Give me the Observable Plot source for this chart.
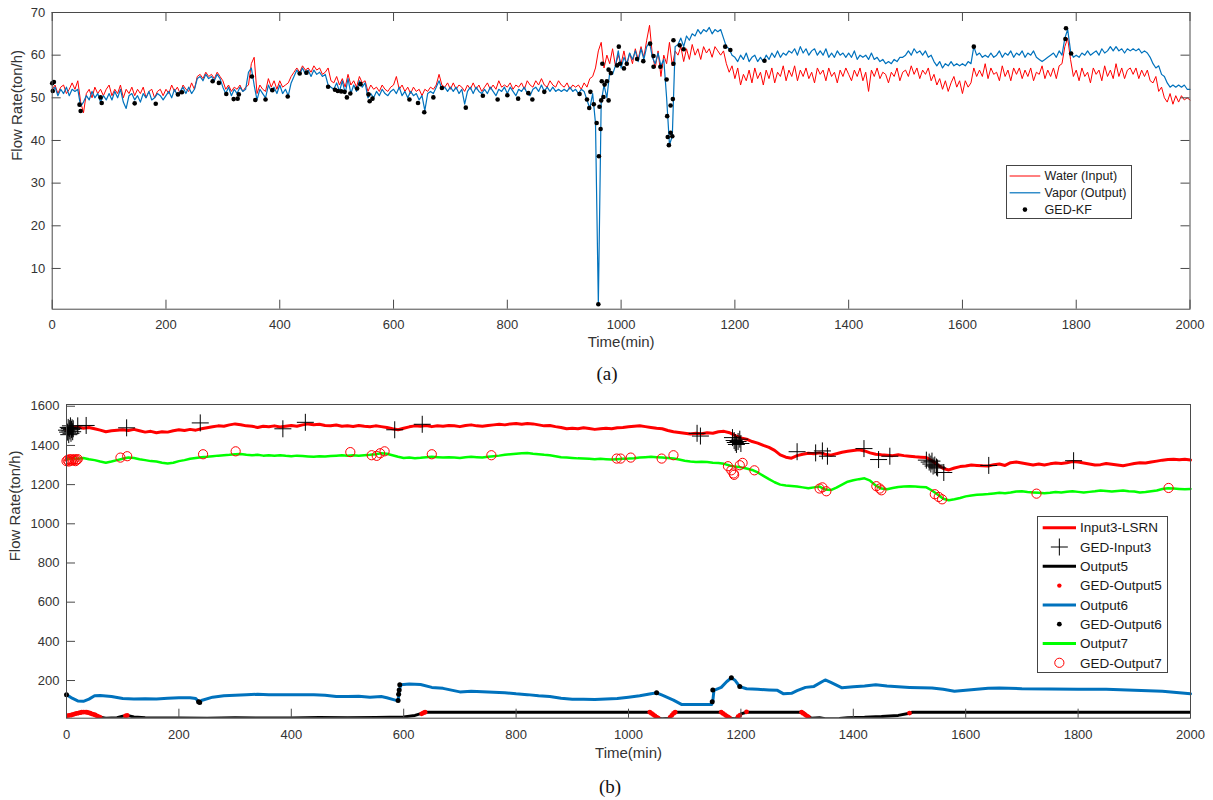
<!DOCTYPE html>
<html><head><meta charset="utf-8">
<script src="https://cdn.jsdelivr.net/npm/d3@7"></script>
<script src="https://cdn.jsdelivr.net/npm/@observablehq/plot@0.6"></script>
<style>
body{margin:0;background:#fff;}
#root{position:relative;width:1213px;height:800px;overflow:hidden;font-family:"Liberation Sans",Arial,sans-serif;}
.panel{position:absolute;left:0;}
.cap{position:absolute;font-family:"Liberation Serif","Times New Roman",serif;font-size:19px;color:#111;transform:translate(-50%,-50%);white-space:nowrap;}
.legend{position:absolute;}
</style>
</head><body><div id="root"></div>
<script>
// ---------- Panel (a) data ----------
const aXTicks = [0,200,400,600,800,1000,1200,1400,1600,1800,2000];
const aYTicks = [10,20,30,40,50,60,70];
const aStep = 5; // minutes between samples
const waterValues = [
52,53,51,52.5,53,51,52,53.5,52,54,49,46.5,51,52,50,52.5,51,52,50.5,52,
53,50.5,52,51,53,50,52,51,52.5,50.5,52,51,52.5,50,51.5,52,50,51.5,52,50.5,
52,51,53,51.5,52.5,51,53,52,51.5,53.5,52,55,55.5,54.5,56,55,55.5,54.5,56,55,
54,52,53,51.5,52.5,52,53,51.5,52.5,53,58,59.5,51,53,52,51.5,54.5,52.5,54,52,
54,52.5,53,53.5,55,56,57,56,57.5,56.5,57,56,57.5,56.5,57,55.5,56,57,54,53.5,
55,53,54.5,52.5,55.5,53,54,52.5,55,53.5,54,51.5,53,52,52.5,51.5,53,52,51.5,52.5,
53,55,52,53,51.5,52.5,51,52.5,51.5,52,50.5,52,51.5,52.5,52,53,55.5,53,52.5,53.5,
52,53.5,52,53,52.5,51.5,53,52,53.5,52,53,51.5,52.5,53.5,52,53,52,54,52.5,53,
52.5,53.5,52,53,52.5,53.5,52,54,53,52.5,54,53,54.5,53,52.5,54,53,52.5,54,53,
52.5,53.5,52,53,52.5,53,52,53.5,52.5,54.5,55,57,61,63,57,60,58,61.5,57.5,60,
58,61,57.5,60.5,58,61.5,59,62,59.5,63.5,67,60,57,61,55,60,58,63,57.5,61,
60,62,58.5,61.5,59,62.5,60,61.5,59,62,60.5,61.5,59.5,62,61,60,61,58,56,57.5,
54.5,57,53,55.5,54,56.5,53.5,57,54.5,56,53,56.5,54.5,57,53.5,56,55,57.5,54,56.5,
55,57.5,54,56.5,55,57,54.5,56,53.5,57,55.5,56.5,54,57,55,56,53.5,56.5,55,57,
55.5,54,56.5,55,57,54,56,51.5,56.5,55,57,54.5,56,55.5,53.5,56,55,57,54,56,
56.5,55,57.5,55.5,57,54.5,56.5,55.5,57,54,55.5,53,54.5,52,54,51.5,53.5,55,52.5,54,
51,54,52.5,53.5,57,55,56.5,55,58,54.5,57,55.5,56,54,57.5,55,56.5,54,57,55.5,
57,54.5,56.5,55,57,54,56,55.5,57.5,54.5,56.5,55,57,54.5,57.5,58,62,64,59,55,
56.5,54,57,55,56,53.5,57,55.5,56.5,54,57.5,55,56.5,54.5,58,55,57,54.5,56.5,57,
55.5,57,54.5,56.5,55,56.5,54,53.5,55,51.5,52.5,50,49,51,48.5,50.5,49,50.5,49.5,50,49.5
];
const vaporValues = [
51.5,52.5,50.5,52,51,52.5,50.5,52,51.5,52,48,49,50.5,49.5,51.5,50,51,49,50.5,49.5,
51,49.5,51.5,50,52,49,47.5,50.5,51,49.5,50.5,49,51,50,51.5,49.5,50,51,50.5,49.5,
50.5,51.5,50,52,50.5,51.5,52.5,51,52.5,51,52,54.5,55,54,55.5,54.5,55,54,55.5,54.5,
52.5,51,52.5,50.5,52,51,52.5,51.5,52,56,57,53,49.5,52,51,50,53,51.5,52.5,51,
53,51,52,50.5,53.5,55,56.5,55.5,57,55.5,56.5,55,56.5,55.5,56,55,55.5,53,52.5,52,
53.5,51.5,54,51,54.5,51,53,51.5,54,52.5,53.5,50,51,50,51.5,50.5,52,51,50.5,51.5,
52,51,52.5,50.5,51.5,50,51.5,50.5,51,49.5,50.5,47,51,51.5,51,52.5,54,52,52.5,51.5,
52.5,51.5,52.5,51,52,48.5,51.5,52.5,51,52.5,51.5,51,52,51,52.5,51.5,50.5,52,51.5,52.5,
51,52.5,51.5,50.5,52,51.5,52.5,51,50.5,52,52.5,51.5,53,51.5,52.5,51.5,52.5,51.5,52,51.5,
52,51.5,52.5,51.5,52,51,52,51.5,49.5,47.5,51,44,1.6,49,53,50,56,55.5,57.5,61,
57,59.5,58,60.5,59,61,58.5,61.5,59,62,63,59.5,58,60.5,57.5,59,50,39,41,62,
62.5,64,62,64.5,63.5,65,64.5,66,65,66,65.5,66.5,65,66,65.5,66,64,62,61.5,60,
59.5,58.5,60,59,60.5,58.5,59.5,60,58.5,59.5,58.5,60,59,60.5,59.5,61,59.5,60.5,60,61,
60.5,61.5,60,62,60.5,61.5,60,61,61.5,60,61,60,61.5,59.5,60.5,59.5,61,60,60.5,59.5,
60.5,59.5,61,59,60,59.5,60,59,60.5,59,59.5,58.5,59,58,58.5,58,59,58.5,59.5,59.5,
60,61,60,61.5,60.5,61,60,61,59.5,60,58.5,57.5,58.5,57,58,57.5,58.5,57.5,58,57.5,
58,57.5,58.5,58,62,60,60.5,59.5,60,59.5,60.5,59.5,60,61,59.5,60.5,60,61,59.5,60.5,
60,61,59.5,60.5,60,61,59.5,59,58.5,59,59.5,60,60.5,59.5,61,60,64,66,61,59.5,
60,59.5,60.5,60,61,60,60.5,61,60,61.5,60.5,61,62,61,62,61,61.5,60.5,61.5,61,
61.5,61,61.5,60.5,61,60.5,59.5,58,57,57.5,55.5,55,53.5,52.5,53,52.5,53,52.5,53,52,52
];
const gedKfTime = [0,1,3,48,50,85,87,145,182,221,228,282,293,306,319,326,328,351,357,375,387,414,435,447,485,497,502,508,514,518,524,536,542,556,558,563,628,643,654,670,685,727,757,783,800,819,837,844,865,927,940,944,946,952,957,961,960,962,964,965,966,967,969,971,975,978,978,982,993,996,998,1005,1010,1028,1039,1051,1057,1057,1069,1080,1081,1082,1084,1087,1087,1090,1091,1092,1092,1103,1110,1183,1192,1252,1620,1781,1782,1791];
const gedKfValue = [53.4,51.6,53.7,48.4,46.9,50.1,48.8,48.7,48.6,50.8,51.3,53.9,53.5,50.9,49.7,49.8,50.8,55,49.5,49.6,51.8,50.3,55.7,55.9,52.6,51.9,51.6,51.5,51.4,50.1,51,52.2,53.2,50.8,49.2,49.8,49.6,48.8,46.6,50.1,52.3,47.7,50.5,49.6,50.6,49.8,51.1,49.6,51.4,50.9,49.6,47.6,51.4,48.5,44.1,36.3,1.6,47.9,42.7,49.4,53.9,58,50.2,53.1,53.9,49.4,56.6,55.8,57.6,62,58,56.9,58,59.1,58.6,62.7,59.8,57.3,57.3,54.3,45.7,40.8,38.9,48.2,41.8,41,49.7,58,63.5,62.3,61.4,62,61.2,58.7,62,63.8,66.3,60.4];

// ---------- Panel (b) data ----------
const bXTicks = [0,200,400,600,800,1000,1200,1400,1600,1800,2000];
const bYTicks = [200,400,600,800,1000,1200,1400,1600];
const bStep = 10;
const input3Values = [
1480,1490,1495,1488,1492,1485,1478,1470,1475,1478,
1480,1476,1482,1475,1468,1472,1465,1470,1468,1475,
1480,1476,1482,1478,1485,1490,1495,1500,1498,1505,
1510,1506,1500,1498,1492,1498,1495,1500,1494,1498,
1502,1498,1505,1510,1506,1508,1502,1500,1504,1498,
1500,1497,1502,1498,1495,1500,1496,1492,1485,1480,
1488,1495,1500,1498,1502,1496,1500,1498,1502,1500,
1496,1502,1505,1500,1498,1502,1505,1508,1505,1510,
1512,1508,1512,1510,1505,1500,1502,1496,1492,1485,
1488,1485,1490,1486,1482,1485,1488,1485,1490,1492,
1495,1498,1500,1496,1492,1488,1485,1476,1470,1466,
1462,1458,1462,1460,1465,1462,1470,1472,1465,1450,
1438,1432,1420,1412,1400,1390,1375,1352,1340,1335,
1348,1355,1360,1358,1362,1355,1350,1358,1365,1370,
1374,1378,1372,1362,1355,1352,1350,1348,1352,1348,
1345,1342,1340,1338,1322,1300,1282,1275,1285,1292,
1295,1300,1298,1296,1295,1302,1305,1298,1312,1315,
1310,1305,1300,1305,1300,1306,1310,1308,1312,1318,
1315,1310,1305,1300,1302,1308,1304,1300,1296,1302,
1308,1312,1310,1315,1320,1325,1328,1330,1327,1330,1326
];
const output7Values = [
1330,1335,1332,1336,1330,1325,1318,1312,1318,1325,
1332,1338,1336,1330,1325,1320,1318,1312,1308,1312,
1320,1325,1332,1336,1340,1342,1345,1348,1350,1352,
1355,1356,1352,1350,1352,1348,1350,1348,1350,1347,
1345,1348,1346,1344,1342,1345,1343,1346,1348,1350,
1348,1350,1348,1350,1352,1355,1360,1358,1350,1342,
1336,1338,1335,1337,1340,1342,1340,1338,1340,1338,
1336,1340,1342,1340,1338,1342,1345,1348,1352,1355,
1358,1360,1362,1358,1355,1352,1350,1345,1340,1338,
1336,1334,1333,1332,1330,1332,1330,1328,1330,1332,
1333,1335,1338,1340,1342,1340,1338,1336,1333,1328,
1322,1318,1316,1317,1315,1312,1310,1306,1298,1292,
1288,1282,1275,1262,1245,1228,1212,1200,1196,1193,
1190,1186,1182,1186,1190,1175,1172,1185,1200,1215,
1222,1228,1232,1220,1195,1180,1176,1183,1188,1190,
1192,1190,1188,1186,1170,1150,1128,1120,1125,1132,
1140,1145,1148,1150,1152,1155,1158,1156,1160,1165,
1166,1162,1160,1158,1156,1158,1162,1160,1164,1166,
1163,1160,1163,1166,1170,1168,1165,1168,1170,1166,
1165,1160,1162,1166,1170,1178,1182,1180,1178,1176,1178
];
const output6Time = [0,10,20,30,40,50,60,80,100,120,140,160,180,200,220,230,235,240,260,280,300,320,340,360,380,400,420,440,460,480,500,520,540,560,570,585,590,592,595,610,630,650,670,700,720,760,780,800,820,840,860,880,900,920,940,960,980,1000,1020,1040,1050,1060,1080,1095,1120,1148,1150,1152,1165,1175,1183,1190,1198,1210,1230,1250,1265,1276,1290,1300,1315,1330,1345,1350,1360,1380,1400,1420,1440,1460,1480,1500,1520,1540,1560,1580,1600,1620,1640,1660,1700,1750,1800,1850,1900,1950,1970,2000];
const output6Value = [128,110,96,94,105,122,123,118,108,106,107,106,110,112,112,108,92,98,115,122,125,127,130,128,128,128,127,127,125,118,118,120,115,118,112,100,96,150,178,182,180,165,160,142,145,140,138,132,128,122,118,110,104,104,103,106,108,115,122,132,137,125,100,77,77,77,95,150,165,195,214,200,169,158,155,152,150,132,135,148,165,170,195,203,190,163,168,172,178,172,168,165,163,162,155,145,150,155,160,162,158,157,155,155,150,145,140,132];
const output5Time = [0,10,20,30,40,50,60,70,90,100,110,120,140,200,250,300,350,400,450,500,550,600,620,635,640,700,800,900,1000,1038,1045,1052,1060,1072,1080,1085,1100,1165,1172,1180,1190,1195,1200,1210,1300,1310,1318,1325,1340,1350,1375,1390,1420,1450,1480,1500,1505,1600,1800,2000];
const output5Value = [20,25,33,38,36,25,12,8,10,18,20,14,10,9,8,10,9,9,11,10,11,14,22,35,38,38,38,38,38,38,25,8,5,8,32,38,38,38,25,8,5,15,30,38,38,38,20,8,10,5,6,10,12,16,22,33,38,38,38,38];
const gedInput3Time = [0,2,3,4,5,6,7,8,9,10,11,12,20,35,107,238,385,425,584,633,1122,1128,1185,1188,1190,1192,1195,1198,1200,1300,1333,1345,1354,1419,1445,1465,1530,1535,1538,1540,1542,1545,1548,1550,1561,1641,1792];
const gedInput3Value = [1478,1468,1492,1455,1486,1474,1500,1462,1482,1490,1470,1485,1500,1502,1490,1515,1485,1518,1480,1508,1462,1448,1440,1425,1415,1405,1420,1432,1410,1368,1362,1372,1345,1384,1328,1345,1325,1315,1305,1320,1295,1300,1290,1285,1262,1298,1322];
const gedOutput5Time = [0,3,6,9,12,15,18,21,24,27,30,33,36,39,42,45,48,51,54,57,60,105,108,632,635,638,1038,1041,1044,1047,1050,1053,1074,1077,1080,1083,1165,1168,1171,1174,1177,1180,1195,1198,1210,1308,1311,1314,1317,1320,1500];
const gedOutput5Value = [20,21,22,24,27,30,32,34,36,38,39,39,38,36,33,30,27,24,20,16,12,20,22,30,35,38,38,32,26,20,13,8,12,22,32,38,38,32,26,20,14,9,15,22,40,38,32,26,20,14,34];
const gedOutput6Time = [0,235,237,590,591,592,593,1050,1149,1150,1183,1198];
const gedOutput6Value = [128,92,88,98,130,152,178,137,92,152,214,169];
const gedOutput7Time = [0,2,4,6,8,10,12,14,16,18,20,96,108,243,301,505,543,552,558,566,650,756,979,986,1004,1059,1080,1177,1183,1187,1188,1198,1203,1224,1340,1345,1352,1441,1447,1450,1545,1552,1558,1726,1961];
const gedOutput7Value = [1320,1326,1318,1330,1322,1328,1324,1330,1320,1327,1330,1338,1345,1355,1370,1366,1350,1347,1360,1370,1355,1350,1333,1333,1338,1333,1350,1294,1273,1257,1250,1299,1311,1273,1180,1186,1166,1192,1180,1171,1151,1137,1125,1154,1183];

// ---------- helpers ----------
const zipStep = (vals, step) => vals.map((v, i) => ({t: i * step, v}));
const zip = (ts, vs) => ts.map((t, i) => ({t, v: vs[i]}));
const plain = d => String(d);
const plusSymbol = {draw(ctx, size) { const r = Math.sqrt(size / Math.PI); ctx.moveTo(-r, 0); ctx.lineTo(r, 0); ctx.moveTo(0, -r); ctx.lineTo(0, r); }};
const RED = "#ff0000", BLUE = "#0072bd", GREEN = "#00ff00", AXIS = "#4a4a4a", TXT = "#333";
const root = document.getElementById("root");

function frameTicks(xt, yt, innerW, innerH, allSides) {
  const len = 9;
  const m = [
    Plot.ruleX(xt, {x: d => d, insetTop: innerH - len, stroke: AXIS}),
    Plot.ruleY(yt, {y: d => d, insetRight: innerW - len, stroke: AXIS})
  ];
  if (allSides) {
    m.push(Plot.ruleX(xt, {x: d => d, insetBottom: innerH - len, stroke: AXIS}));
    m.push(Plot.ruleY(yt, {y: d => d, insetLeft: innerW - len, stroke: AXIS}));
  }
  return m;
}

// ---------- Panel (a) ----------
{
  const W = 1213, H = 362, mt = 12, mb = H - 308.7, ml = 51.7, mr = W - 1189.5;
  const chart = Plot.plot({
    width: W, height: H, marginTop: mt, marginBottom: mb, marginLeft: ml, marginRight: mr,
    style: {fontFamily: "'Liberation Sans', Arial, sans-serif", fontSize: "13px", color: TXT, background: "transparent"},
    x: {domain: [0, 2000]},
    y: {domain: [0.45, 70]},
    marks: [
      Plot.line(zipStep(waterValues, aStep), {x: "t", y: "v", stroke: RED, strokeWidth: 1}),
      Plot.line(zipStep(vaporValues, aStep), {x: "t", y: "v", stroke: BLUE, strokeWidth: 1.2}),
      Plot.dot(zip(gedKfTime, gedKfValue), {x: "t", y: "v", r: 2.3, fill: "black"}),
      Plot.frame({stroke: AXIS}),
      ...frameTicks(aXTicks, aYTicks, W - ml - mr, H - mt - mb, true),
      Plot.axisX(aXTicks, {anchor: "bottom", tickSize: 0, tickPadding: 11, label: null, fill: TXT, tickFormat: plain}),
      Plot.axisY(aYTicks, {anchor: "left", tickSize: 0, tickPadding: 7, label: null, fill: TXT, tickFormat: plain}),
      Plot.text(["Time(min)"], {frameAnchor: "bottom", dy: 38, fontSize: 15, fill: TXT}),
      Plot.text(["Flow Rate(ton/h)"], {frameAnchor: "left", dx: -35, rotate: -90, fontSize: 15, fill: TXT})
    ]
  });
  chart.classList.add("panel");
  chart.style.top = "0px";
  root.appendChild(chart);
}

// ---------- Panel (b) ----------
{
  const top = 380, W = 1213, H = 400, mt = 404 - top, mb = H - (717.7 - top), ml = 66, mr = W - 1190;
  const chart = Plot.plot({
    width: W, height: H, marginTop: mt, marginBottom: mb, marginLeft: ml, marginRight: mr,
    style: {fontFamily: "'Liberation Sans', Arial, sans-serif", fontSize: "13px", color: TXT, background: "transparent"},
    x: {domain: [0, 2000]},
    y: {domain: [7.7, 1609]},
    marks: [
      Plot.line(zipStep(input3Values, bStep), {x: "t", y: "v", stroke: RED, strokeWidth: 3}),
      Plot.dot(zip(gedInput3Time, gedInput3Value), {x: "t", y: "v", symbol: plusSymbol, r: 8.5, stroke: "black", strokeWidth: 1, fill: "none"}),
      Plot.line(zip(output5Time, output5Value), {x: "t", y: "v", stroke: "black", strokeWidth: 3, clip: true}),
      Plot.dot(zip(gedOutput5Time, gedOutput5Value), {x: "t", y: "v", r: 2.4, fill: RED, clip: true}),
      Plot.line(zip(output6Time, output6Value), {x: "t", y: "v", stroke: BLUE, strokeWidth: 3}),
      Plot.dot(zip(gedOutput6Time, gedOutput6Value), {x: "t", y: "v", r: 2.5, fill: "black"}),
      Plot.line(zipStep(output7Values, bStep), {x: "t", y: "v", stroke: GREEN, strokeWidth: 2.5}),
      Plot.dot(zip(gedOutput7Time, gedOutput7Value), {x: "t", y: "v", r: 4.6, stroke: RED, strokeWidth: 1, fill: "none"}),
      Plot.frame({stroke: AXIS}),
      ...frameTicks(bXTicks, bYTicks, W - ml - mr, H - mt - mb, false),
      Plot.axisX(bXTicks, {anchor: "bottom", tickSize: 0, tickPadding: 12, label: null, fill: TXT, tickFormat: plain}),
      Plot.axisY(bYTicks, {anchor: "left", tickSize: 0, tickPadding: 7, label: null, fill: TXT, tickFormat: plain}),
      Plot.text(["Time(min)"], {frameAnchor: "bottom", dy: 40, fontSize: 15, fill: TXT}),
      Plot.text(["Flow Rate(ton/h)"], {frameAnchor: "left", dx: -51, rotate: -90, fontSize: 15, fill: TXT})
    ]
  });
  chart.classList.add("panel");
  chart.style.top = top + "px";
  root.appendChild(chart);
}

// ---------- captions ----------
function cap(text, x, y) {
  const d = document.createElement("div");
  d.className = "cap"; d.textContent = text;
  d.style.left = x + "px"; d.style.top = y + "px";
  root.appendChild(d);
}
cap("(a)", 607, 374);
cap("(b)", 610, 787);

// ---------- legends ----------
function legend(box, rows, opts) {
  const svg = d3.create("svg").attr("class", "legend")
    .attr("width", box.w).attr("height", box.h)
    .style("left", box.x + "px").style("top", box.y + "px");
  svg.append("rect").attr("x", 0.5).attr("y", 0.5).attr("width", box.w - 1).attr("height", box.h - 1)
    .attr("fill", "white").attr("stroke", "#444");
  rows.forEach((r, i) => {
    const cy = opts.y0 + i * opts.dy;
    const cx = (opts.s0 + opts.s1) / 2;
    if (r.type === "line") svg.append("line").attr("x1", opts.s0).attr("x2", opts.s1).attr("y1", cy).attr("y2", cy).attr("stroke", r.color).attr("stroke-width", r.w);
    if (r.type === "dot") svg.append("circle").attr("cx", cx).attr("cy", cy).attr("r", r.r).attr("fill", r.color);
    if (r.type === "circle") svg.append("circle").attr("cx", cx).attr("cy", cy).attr("r", 4.6).attr("fill", "none").attr("stroke", r.color);
    if (r.type === "plus") svg.append("path").attr("d", `M${cx-8.5},${cy}H${cx+8.5}M${cx},${cy-8.5}V${cy+8.5}`).attr("stroke", "black");
    svg.append("text").attr("x", opts.tx).attr("y", cy).attr("dy", "0.35em")
      .attr("font-size", opts.fs).attr("fill", "#1a1a1a")
      .attr("font-family", "'Liberation Sans', Arial, sans-serif").text(r.label);
  });
  root.appendChild(svg.node());
}
legend({x: 1005.7, y: 165, w: 126, h: 54},
  [{label: "Water (Input)", type: "line", color: RED, w: 1},
   {label: "Vapor (Output)", type: "line", color: BLUE, w: 1.2},
   {label: "GED-KF", type: "dot", color: "black", r: 2.3}],
  {y0: 11, dy: 16.8, s0: 3.6, s1: 34.3, tx: 38.6, fs: 12.5});
legend({x: 1037, y: 516, w: 131, h: 157},
  [{label: "Input3-LSRN", type: "line", color: RED, w: 3},
   {label: "GED-Input3", type: "plus"},
   {label: "Output5", type: "line", color: "black", w: 3},
   {label: "GED-Output5", type: "dot", color: RED, r: 2.2},
   {label: "Output6", type: "line", color: BLUE, w: 3},
   {label: "GED-Output6", type: "dot", color: "black", r: 2.4},
   {label: "Output7", type: "line", color: GREEN, w: 3},
   {label: "GED-Output7", type: "circle", color: RED}],
  {y0: 11.7, dy: 19.3, s0: 5.7, s1: 39, tx: 43, fs: 13.5});
</script>
</body></html>
